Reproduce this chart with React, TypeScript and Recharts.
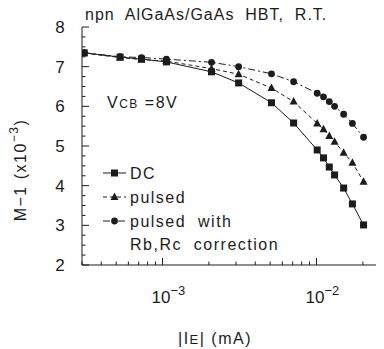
import { Legend, Line, LineChart, XAxis, YAxis } from 'recharts';

// emitter current |IE| (mA), same for all three series
const current = [3.1e-4, 5.3e-4, 7.3e-4, 1.06e-3, 2.08e-3, 3.12e-3, 5.1e-3, 7.1e-3, 1.01e-2, 1.11e-2, 1.21e-2, 1.31e-2, 1.5e-2, 1.71e-2, 2.02e-2];
// M-1 (x10^-3)
const dc = [7.35, 7.24, 7.19, 7.12, 6.87, 6.59, 6.09, 5.58, 4.9, 4.7, 4.47, 4.27, 3.94, 3.54, 3.01];
const pulsed = [7.34, 7.23, 7.18, 7.14, 6.95, 6.81, 6.46, 6.12, 5.57, 5.42, 5.25, 5.11, 4.83, 4.58, 4.1];
const corrected = [7.35, 7.25, 7.23, 7.19, 7.11, 7.0, 6.82, 6.62, 6.33, 6.24, 6.12, 6.0, 5.8, 5.57, 5.22];

const xMajor = [1e-3, 1e-2];
const xTicks = [3e-4, 4e-4, 5e-4, 6e-4, 7e-4, 8e-4, 9e-4, 1e-3, 2e-3, 3e-3, 4e-3, 5e-3, 6e-3, 7e-3, 8e-3, 9e-3, 1e-2, 2e-2, 3e-2];
const yMajor = [2, 3, 4, 5, 6, 7, 8];
const yTicks = [2, 2.25, 2.5, 2.75, 3, 3.25, 3.5, 3.75, 4, 4.25, 4.5, 4.75, 5, 5.25, 5.5, 5.75, 6, 6.25, 6.5, 6.75, 7, 7.25, 7.5, 7.75, 8];

const ink = '#1c1c1c';
const font = "'Liberation Sans', Arial, sans-serif";

const rows = current.map((c, i) => ({ current: c, dc: dc[i], pulsed: pulsed[i], corrected: corrected[i] }));

const SquareDot = (p: any) => {
  if (p.cx == null) return <g key={p.index} />;
  return <rect key={'s' + p.index} x={p.cx - 3.5} y={p.cy - 3.5} width={7} height={7} fill={ink} />;
};
const TriangleDot = (p: any) => {
  if (p.cx == null) return <g key={p.index} />;
  return <path key={'t' + p.index} d={`M${p.cx},${p.cy - 4.5}L${p.cx + 4},${p.cy + 3}L${p.cx - 4},${p.cy + 3}Z`} fill={ink} />;
};
const CircleDot = (p: any) => {
  if (p.cx == null) return <g key={p.index} />;
  return <circle key={'c' + p.index} cx={p.cx} cy={p.cy} r={3.4} fill={ink} />;
};

const styles: Record<string, { dash?: string; shape: (p: any) => any }> = {
  dc: { shape: SquareDot },
  pulsed: { dash: '4 3', shape: TriangleDot },
  corrected: { dash: '7 3 2 3', shape: CircleDot },
};

const BottomTick = ({ x, y, payload }: any) => {
  const v = payload.value;
  const major = xMajor.includes(v);
  return (
    <g>
      <line x1={x} x2={x} y1={y} y2={y - (major ? 7 : 3.5)} stroke={ink} />
      {major && (
        <text x={x - 11} y={y + 38} fontSize={17} fill={ink} fontFamily={font}>
          10<tspan dy={-8} fontSize={13}>{'\u2212' + Math.round(-Math.log10(v))}</tspan>
        </text>
      )}
    </g>
  );
};

const TopTick = ({ x, y, payload }: any) => {
  const major = xMajor.includes(payload.value);
  return <line x1={x} x2={x} y1={y} y2={y + (major ? 7 : 3.5)} stroke={ink} />;
};

const LeftTick = ({ x, y, payload }: any) => {
  const v = payload.value;
  const major = yMajor.includes(v);
  return (
    <g>
      <line x1={x} x2={x + (major ? 7 : 3.5)} y1={y} y2={y} stroke={ink} />
      {major && (
        <text x={x - 22} y={y + 6} textAnchor="middle" fontSize={17} fill={ink} fontFamily={font}>
          {v}
        </text>
      )}
    </g>
  );
};

const renderLegend = (props: any) => (
  <div style={{ fontFamily: font, fontSize: 16, color: ink, letterSpacing: 1.5 }}>
    {props.payload.map((entry: any) => {
      const st = styles[entry.dataKey];
      const Shape = st.shape;
      return (
        <div key={entry.dataKey} style={{ display: 'flex', alignItems: 'flex-start', minHeight: 24 }}>
          <svg width={23} height={24} style={{ flex: 'none' }}>
            <line x1={0} x2={23} y1={12} y2={12} stroke={ink} strokeDasharray={st.dash} />
            <Shape cx={11.5} cy={12} index={0} />
          </svg>
          <span style={{ marginLeft: 4, whiteSpace: 'pre', lineHeight: '23px', marginTop: 1, textAlign: 'left' }}>{entry.value}</span>
        </div>
      );
    })}
  </div>
);

export default function App() {
  return (
    <div style={{ position: 'relative', width: 376, height: 341, fontFamily: font, color: ink }}>
      <LineChart width={376} height={341} data={rows} margin={{ top: 19, right: -6, left: 0, bottom: 0 }}>
        <XAxis
          dataKey="current"
          type="number"
          scale="log"
          domain={[3e-4, 3e-2]}
          allowDataOverflow
          ticks={xTicks}
          interval={0}
          tickSize={0}
          tickMargin={0}
          tickLine={false}
          tick={<BottomTick />}
          height={84}
          stroke={ink}
          label={{
            content: () => (
              <text x={207} y={336} textAnchor="middle" fontSize={16} fill={ink} fontFamily={font} letterSpacing={1.5}>
                |I<tspan fontSize={13}>E</tspan>| (mA)
              </text>
            ),
          }}
        />
        <XAxis
          xAxisId="top"
          orientation="top"
          type="number"
          scale="log"
          domain={[3e-4, 3e-2]}
          allowDataOverflow
          ticks={xTicks}
          interval={0}
          tickSize={0}
          tickMargin={0}
          tickLine={false}
          tick={<TopTick />}
          mirror
          height={0}
          stroke={ink}
        />
        <YAxis
          type="number"
          domain={[2, 8]}
          ticks={yTicks}
          interval={0}
          tickSize={0}
          tickMargin={0}
          tickLine={false}
          tick={<LeftTick />}
          width={74}
          stroke={ink}
          label={{
            content: () => (
              <text transform="rotate(-90 14 162)" x={14} y={162} textAnchor="middle" dominantBaseline="middle" fontSize={16} fill={ink} fontFamily={font} letterSpacing={1.5}>
                M{'\u2212'}1 (x10<tspan dy={-7} fontSize={12}>{'\u2212'}3</tspan><tspan dy={7}>)</tspan>
              </text>
            ),
          }}
        />
        <Legend
          content={renderLegend}
          verticalAlign="middle"
          align="center"
          wrapperStyle={{ position: 'absolute', left: 95, top: 153, width: 260, height: 'auto' }}
        />
        <Line dataKey="dc" name="DC" type="linear" stroke={ink} strokeWidth={1} dot={SquareDot} activeDot={false} isAnimationActive={false} />
        <Line dataKey="pulsed" name="pulsed" type="linear" stroke={ink} strokeWidth={1} strokeDasharray="4 3" dot={TriangleDot} activeDot={false} isAnimationActive={false} />
        <Line dataKey="corrected" name={'pulsed  with\nRb,Rc  correction'} type="linear" stroke={ink} strokeWidth={1} strokeDasharray="7 3 2 3" dot={CircleDot} activeDot={false} isAnimationActive={false} />
      </LineChart>
      <div style={{ position: 'absolute', left: 77, top: 0, fontSize: 16, lineHeight: '14px', whiteSpace: 'pre', letterSpacing: 1 }}>
        npn  AlGaAs/GaAs  HBT,  R.T.
      </div>
      <div style={{ position: 'absolute', left: 99, top: 86, fontSize: 16, lineHeight: '18px', whiteSpace: 'pre', letterSpacing: 1.5 }}>
        V<span style={{ fontSize: 12 }}>CB</span> =8V
      </div>
    </div>
  );
}
